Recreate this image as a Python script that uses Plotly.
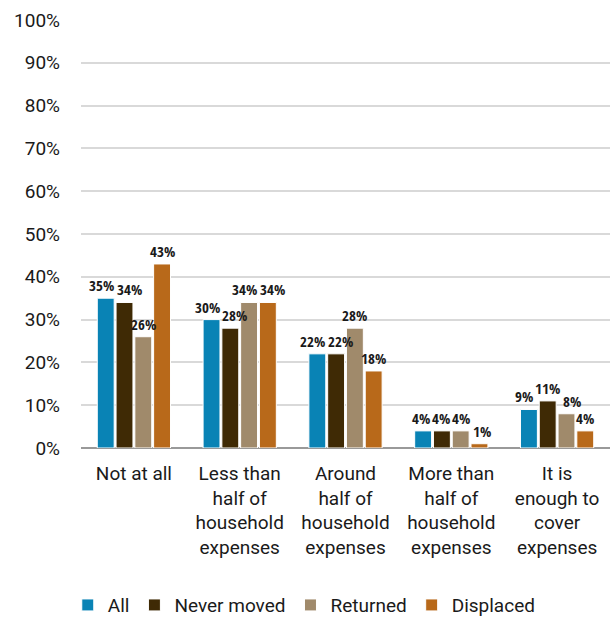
import plotly.graph_objects as go

categories = [
    "Not at all",
    "Less than<br>half of<br>household<br>expenses",
    "Around<br>half of<br>household<br>expenses",
    "More than<br>half of<br>household<br>expenses",
    "It is<br>enough to<br>cover<br>expenses",
]
series_names = ["All", "Never moved", "Returned", "Displaced"]
all_vals = [35, 30, 22, 4, 9]
never_moved = [34, 28, 22, 4, 11]
returned = [26, 34, 28, 4, 8]
displaced = [43, 34, 18, 1, 4]
y_ticks = list(range(0, 101, 10))

colors = ["#0983b5", "#3f2a05", "#a08a6b", "#b8691a"]
values = [all_vals, never_moved, returned, displaced]

# figure geometry (pixels)
W, H = 610, 619
M_L, M_R, M_T, M_B = 81, 0, 20, 171
BARGAP = 0.29
plot_w = W - M_L - M_R
plot_h = H - M_T - M_B
px_per_unit = plot_h / 100.0
slot_px = plot_w / len(categories) * (1 - BARGAP) / len(series_names)

label_size = 15
label_font = dict(family="Open Sans Condensed", size=label_size, color="#1a1a1a")
body_font = dict(family="Roboto", size=19, color="#1a1a1a")


def label_width(txt):
    digits = sum(ch.isdigit() for ch in txt)
    return label_size * (0.5 * digits + 0.72)


fig = go.Figure()
for name, vals, col in zip(series_names, values, colors):
    fig.add_trace(go.Bar(
        name=name,
        x=categories,
        y=vals,
        marker=dict(color=col, line=dict(color="white", width=1)),
        cliponaxis=False,
    ))

# value labels above each bar; neighbours at similar heights are nudged apart
label_h = 14
for ci, cat in enumerate(categories):
    texts = [f"{values[si][ci]}%" for si in range(len(series_names))]
    centers = [(si - 1.5) * slot_px for si in range(len(series_names))]
    shifts = [0.0] * len(series_names)
    for _ in range(3):
        for si in range(1, len(series_names)):
            a, b = si - 1, si
            dy = abs(values[a][ci] - values[b][ci]) * px_per_unit
            if dy >= label_h:
                continue
            need = (label_width(texts[a]) + label_width(texts[b])) / 2 + 2
            gap = (centers[b] + shifts[b]) - (centers[a] + shifts[a])
            if gap < need:
                push = (need - gap) / 2
                shifts[a] -= push
                shifts[b] += push
    for si in range(len(series_names)):
        fig.add_annotation(
            x=cat, y=values[si][ci], xref="x", yref="y",
            text=texts[si], showarrow=False,
            xanchor="center", yanchor="bottom",
            xshift=centers[si] + shifts[si], yshift=1,
            font=label_font,
        )

fig.update_layout(
    width=W,
    height=H,
    margin=dict(l=M_L, r=M_R, t=M_T, b=M_B, autoexpand=False),
    paper_bgcolor="white",
    plot_bgcolor="white",
    barmode="group",
    bargap=BARGAP,
    bargroupgap=0.1,
    font=body_font,
    showlegend=True,
    legend=dict(
        orientation="h",
        x=-0.025,
        xanchor="left",
        y=-0.367,
        yanchor="middle",
        font=body_font,
        itemwidth=30,
        traceorder="normal",
    ),
)

fig.update_yaxes(
    range=[0, 100],
    tickvals=y_ticks,
    ticktext=[f"{v}%" for v in y_ticks],
    showgrid=True,
    gridcolor="#d9d9d9",
    gridwidth=1.5,
    zeroline=True,
    zerolinecolor="#999999",
    zerolinewidth=2,
    ticks="",
    ticklabelstandoff=20,
    tickfont=body_font,
    automargin=False,
)
fig.update_xaxes(
    showgrid=False,
    showline=False,
    ticks="",
    tickfont=body_font,
    tickangle=0,
    ticklabelstandoff=12,
    automargin=False,
)

fig.write_html("out.html")
